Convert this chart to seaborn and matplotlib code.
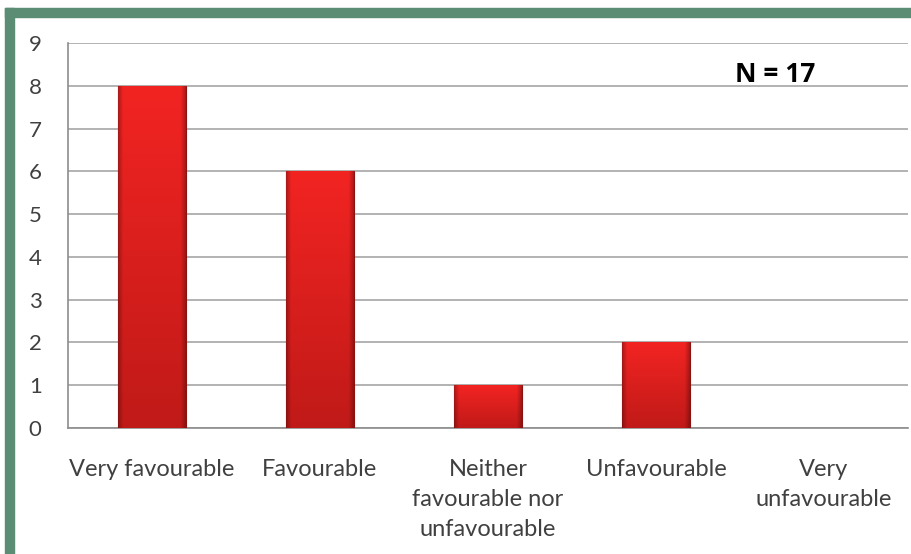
import numpy as np
import pandas as pd
import matplotlib
matplotlib.use("Agg")
import matplotlib.pyplot as plt
from matplotlib.colors import to_rgb
from matplotlib.patches import Rectangle
import seaborn as sns

# data
categories = ["Very favourable", "Favourable", "Neither favourable nor unfavourable",
              "Unfavourable", "Very unfavourable"]
tick_labels = ["Very favourable", "Favourable", "Neither\nfavourable nor\nunfavourable",
               "Unfavourable", "Very\nunfavourable"]
counts = [8, 6, 1, 2, 0]

df = pd.DataFrame({"response": categories, "count": counts})

sns.set_style("white")
plt.rcParams["font.family"] = ["Lato", "DejaVu Sans"]

fig = plt.figure(figsize=(9.11, 5.54), dpi=100)
fig.patch.set_facecolor("white")

# green frame (left and top only, the rest is cropped in the original)
fig.add_artist(Rectangle((5 / 911, 0), 9 / 911, 1 - 8 / 554, transform=fig.transFigure,
                         color="#5b8c74", zorder=0))
fig.add_artist(Rectangle((5 / 911, 1 - 17 / 554), 1, 9 / 554, transform=fig.transFigure,
                         color="#5b8c74", zorder=0))

ax = fig.add_axes([68 / 911, 1 - 428 / 554, 840 / 911, 385 / 554])

sns.barplot(data=df, x="response", y="count", color="#e8201e", width=0.4,
            saturation=1, ax=ax, zorder=3)


def bar_shading(nx=60, ny=120):
    # bright at the top, darker towards the bottom, thin dark sides
    top = np.array(to_rgb("#f22422"))
    bottom = np.array(to_rgb("#c01a18"))
    t = np.linspace(0, 1, ny)[:, None, None]
    img = top * (1 - t) + bottom * t
    img = np.repeat(img, nx, axis=1)
    u = np.linspace(0, 1, nx)
    edge = np.minimum(u, 1 - u)
    factor = 0.72 + 0.28 * np.clip(edge / 0.07, 0, 1)
    img = img * factor[None, :, None]
    return np.clip(img, 0, 1)


shade = bar_shading()
for p in ax.patches:
    h = p.get_height()
    if h <= 0:
        p.set_visible(False)
        continue
    x0 = p.get_x()
    w = p.get_width()
    im = ax.imshow(shade, aspect="auto", extent=(x0, x0 + w, 0, h),
                   origin="upper", zorder=4)
    im.set_clip_path(p)
    p.set_edgecolor("#8a1210")
    p.set_linewidth(0.8)

ax.set_xlim(-0.5, 4.5)
ax.set_ylim(0, 9)
ax.set_yticks(range(0, 10))
ax.yaxis.grid(True, color="#a6a6a6", linewidth=1.2, zorder=0)
ax.set_axisbelow(True)

ax.set_xticks(range(5))
ax.set_xticklabels(tick_labels, fontsize=17, color="#404040", linespacing=1.55,
                   va="top")
ax.set_xticks(np.arange(-0.5, 5, 1), minor=True)
ax.tick_params(axis="x", which="major", length=0, pad=22)
ax.tick_params(axis="x", which="minor", length=7, width=1.2, color="#8c8c8c",
               direction="out")
ax.tick_params(axis="y", length=6, width=1.2, color="#8c8c8c", direction="out",
               labelsize=16, labelcolor="#404040", pad=13)

for s in ["top", "right"]:
    ax.spines[s].set_visible(False)
for s in ["left", "bottom"]:
    ax.spines[s].set_color("#8c8c8c")
    ax.spines[s].set_linewidth(1.2)

ax.set_xlabel("")
ax.set_ylabel("")

ax.text(775 / 911, 1 - 75 / 554, "N = 17", transform=fig.transFigure,
        fontsize=19, fontweight="bold", ha="center", va="center",
        color="black", family=["Open Sans", "DejaVu Sans"])

fig.savefig("out.png", dpi=100)
